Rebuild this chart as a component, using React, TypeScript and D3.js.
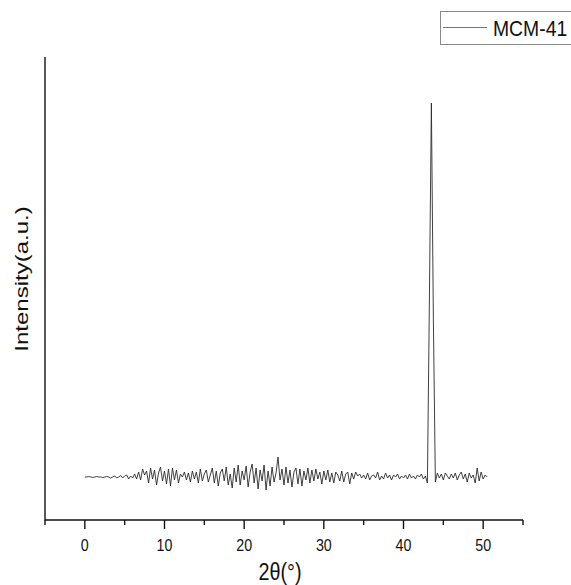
import React from "react";
import * as d3 from "d3";

// 2θ sampling grid (degrees)
const ANGLE_START = 0;
const ANGLE_STEP = 0.25;

// Intensity (a.u.), one value per 0.25° from 0° to 50.5°
const INTENSITY: number[] = [
  // 0 – 5
  43, 43, 43.5, 43, 42.5, 43, 43.5, 43, 43, 42.5, 43, 43.5, 43, 42, 43, 44, 42, 43, 44.5, 42, 44,
  // 5.25 – 6.25
  45, 41, 44, 42, 46,
  // 6.5 – 10
  41, 48, 40, 51, 45, 49, 37, 52, 41, 50, 35, 47, 53, 39, 49,
  // 10.25 – 15
  36, 51, 34, 52, 40, 50, 37, 46, 43, 48, 40, 47, 38, 49, 41, 48, 37, 51, 39, 46,
  // 15.25 – 20
  50, 38, 45, 52, 37, 49, 34, 47, 51, 39, 53, 35, 46, 32, 52, 38, 55, 35, 49, 40,
  // 20.25 – 25
  54, 33, 48, 56, 37, 52, 31, 50, 39, 55, 30, 49, 34, 53, 38, 47, 63, 40, 51, 35,
  // 25.25 – 30
  53, 37, 50, 33, 48, 52, 36, 51, 34, 49, 40, 52, 37, 50, 39, 51, 41, 48, 36, 49,
  // 30.25 – 35
  40, 50, 38, 47, 37, 48, 45, 39, 49, 38, 46, 48, 36, 47, 41, 48, 44, 46, 42, 45,
  // 35.25 – 40
  41, 47, 40, 44, 45, 42, 48, 40, 44, 41, 47, 42, 45, 40, 45, 43, 46, 41, 44, 42,
  // 40.25 – 43
  45, 41, 46, 42, 44, 41, 45, 43, 46, 41, 44, 37,
  // 43.25 – 44 (peak)
  220, 417, 200, 38,
  // 44.25 – 50.5
  47, 42, 46, 40, 47, 44, 41, 46, 42, 47, 40, 45, 48, 41, 46, 38, 47, 42, 45, 37, 52, 39, 48, 41, 45, 43,
];

const X_MAJOR_TICKS = [0, 10, 20, 30, 40, 50];
const X_MINOR_TICKS = [-5, 5, 15, 25, 35, 45, 55];
const X_DOMAIN: [number, number] = [-5, 55];
const Y_DOMAIN: [number, number] = [0, 463];
const SERIES_NAME = "MCM-41";
const X_TITLE = "2θ(°)";
const Y_TITLE = "Intensity(a.u.)";

const W = 571;
const H = 585;
const LEFT = 45;
const RIGHT = 523;
const TOP = 57;
const BOTTOM = 520;
const FONT = "'Liberation Sans', Arial, sans-serif";

export default function App() {
  const x = d3.scaleLinear().domain(X_DOMAIN).range([LEFT, RIGHT]);
  const y = d3.scaleLinear().domain(Y_DOMAIN).range([BOTTOM, TOP]);
  const data = INTENSITY.map((v, i) => ({ a: ANGLE_START + i * ANGLE_STEP, v }));
  const line = d3
    .line<{ a: number; v: number }>()
    .x((d) => x(d.a))
    .y((d) => y(d.v));

  return (
    <svg
      width={W}
      height={H}
      style={{ position: "absolute", left: 0, top: 0, background: "#fff" }}
      fontFamily={FONT}
    >
      <rect x={0} y={0} width={W} height={H} fill="#fff" />
      {/* curve */}
      <path d={line(data) || ""} fill="none" stroke="#2a2a2a" strokeWidth={0.9} strokeLinejoin="round" />

      {/* axes */}
      <line x1={LEFT} x2={LEFT} y1={TOP} y2={BOTTOM + 0.5} stroke="#111" strokeWidth={1.4} />
      <line x1={LEFT} x2={RIGHT} y1={BOTTOM} y2={BOTTOM} stroke="#111" strokeWidth={1.4} />
      {X_MAJOR_TICKS.map((t) => (
        <line key={"M" + t} x1={x(t)} x2={x(t)} y1={BOTTOM} y2={BOTTOM + 9} stroke="#111" strokeWidth={1.4} />
      ))}
      {X_MINOR_TICKS.map((t) => (
        <line key={"m" + t} x1={x(t)} x2={x(t)} y1={BOTTOM} y2={BOTTOM + 5} stroke="#111" strokeWidth={1.4} />
      ))}
      {X_MAJOR_TICKS.map((t) => (
        <text
          key={"L" + t}
          transform={`translate(${x(t)},551) scale(0.84,1)`}
          textAnchor="middle"
          fontSize={17}
          fill="#111"
        >
          {t}
        </text>
      ))}

      {/* axis titles */}
      <text transform={`translate(280,580) scale(0.86,1)`} textAnchor="middle" fontSize={23} fill="#111">
        {X_TITLE}
      </text>
      <text
        transform={`translate(28,279) rotate(-90) scale(1,0.8)`}
        textAnchor="middle"
        fontSize={24}
        fill="#111"
      >
        {Y_TITLE}
      </text>

      {/* legend */}
      <rect x={440.5} y={11.5} width={140} height={33} fill="#fff" stroke="#8a8a8a" strokeWidth={1} />
      <line x1={443} x2={487} y1={27.5} y2={27.5} stroke="#777" strokeWidth={1} />
      <text transform={`translate(493,36) scale(0.88,1)`} fontSize={22} fill="#111">
        {SERIES_NAME}
      </text>
    </svg>
  );
}
